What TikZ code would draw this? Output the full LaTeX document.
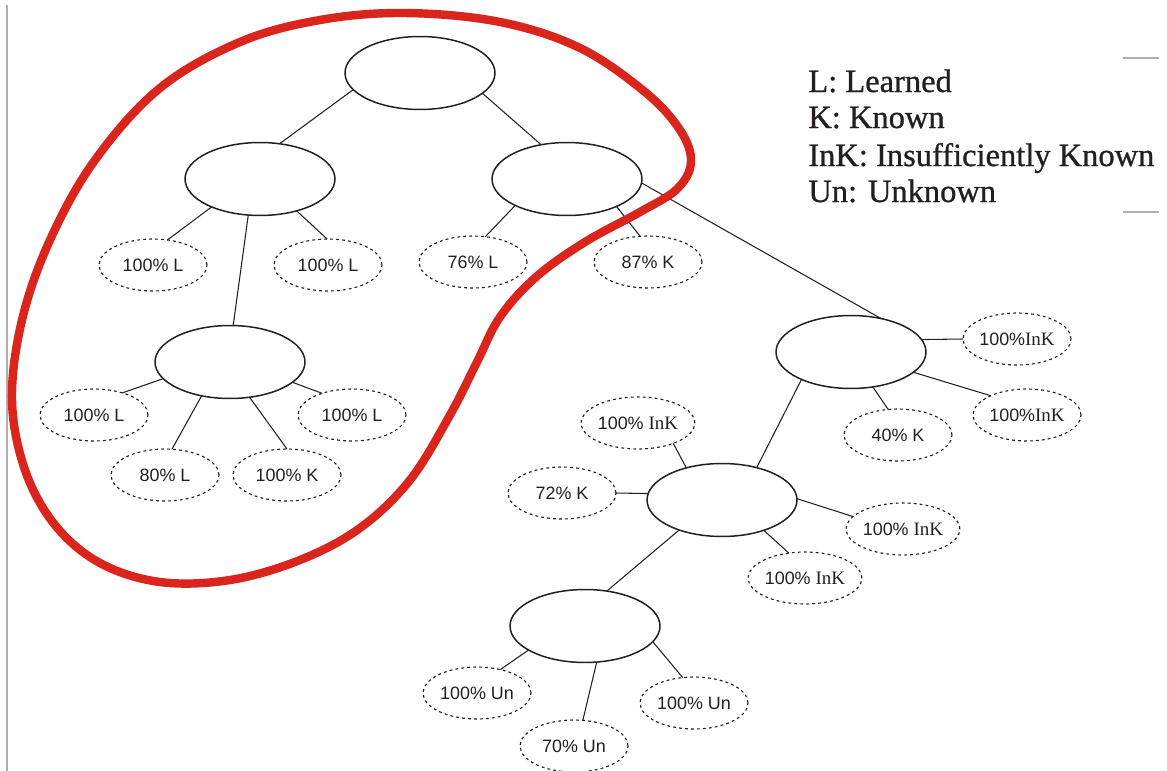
\documentclass[tikz,border=0pt]{standalone}
\usepackage{fontspec}
\setmainfont{Liberation Serif}
\setsansfont{Liberation Sans}
\newfontfamily\legendfont{Liberation Serif}[FakeBold=0.8]
\usetikzlibrary{shapes.geometric}
\definecolor{loopred}{RGB}{218,37,29}
\definecolor{ink}{RGB}{35,31,32}
\definecolor{rulegray}{RGB}{175,175,175}
% serif abbreviation used inside the sans-serif share labels
\newcommand{\InKtext}{{\rmfamily\fontsize{10.8}{12}\selectfont InK}}
\begin{document}
\begin{tikzpicture}[x=0.02cm, y=-0.02cm,
  concept/.style={ellipse, draw=ink, line width=0.85pt, minimum width=3cm,
    minimum height=1.46cm, inner sep=0pt, outer sep=0pt},
  share/.style={ellipse, draw=ink, line width=0.65pt, dash pattern=on 1.6pt off 1.8pt,
    minimum width=2.16cm, minimum height=1.04cm, inner sep=0pt, outer sep=0pt,
    font=\sffamily\fontsize{10.2}{12}\selectfont, text=ink},
  link/.style={draw=ink, line width=0.6pt},
  legend/.style={anchor=base west, font=\legendfont\fontsize{18.5}{22}\selectfont, text=ink, inner sep=0pt},
  framerule/.style={draw=rulegray, line width=0.6pt}]
\useasboundingbox (0,0) rectangle (1167,771);

% page rules
\coordinate (r1) at (7,5);   \coordinate (r2) at (7,771);
\coordinate (r3) at (1123,58);  \coordinate (r4) at (1159,58);
\coordinate (r5) at (1123,212); \coordinate (r6) at (1159,212);
\draw[framerule] (r1) -- (r2);
\draw[framerule] (r3) -- (r4);
\draw[framerule] (r5) -- (r6);

% concept nodes
\node[concept] (root) at (420,73) {};
\node[concept] (A) at (260,179) {};
\node[concept] (B) at (567,179) {};
\node[concept] (C) at (230,362) {};
\node[concept] (D) at (851,352) {};
\node[concept] (E) at (722,500) {};
\node[concept] (F) at (585,626) {};

% share nodes
\node[share] (a1) at (153,265) {100\% L};
\node[share] (a2) at (328,265) {100\% L};
\node[share] (b1) at (473,262) {76\% L};
\node[share] (b2) at (648,262) {87\% K};
\node[share] (c1) at (94,415) {100\% L};
\node[share] (c2) at (165,475) {80\% L};
\node[share] (c3) at (287,475) {100\% K};
\node[share] (c4) at (352,415) {100\% L};
\node[share] (d1) at (1017,339) {100\%\InKtext};
\node[share] (d2) at (1027,415) {100\%\InKtext};
\node[share] (d3) at (898,435) {40\% K};
\node[share] (e1) at (638,423) {100\% \InKtext};
\node[share] (e2) at (562,493) {72\% K};
\node[share] (e3) at (903,529) {100\% \InKtext};
\node[share] (e4) at (805,578) {100\% \InKtext};
\node[share] (f1) at (477,693) {100\% Un};
\node[share] (f2) at (574,746) {70\% Un};
\node[share] (f3) at (694,703) {100\% Un};

% tree links
\draw[link] (root.194) -- (A.61);
\draw[link] (root.342) -- (B.127);
\draw[link] (A.210) -- (a1.60);
\draw[link] (A.319) -- (a2.92);
\draw[link] (A.252) -- (C.85);
\draw[link] (B.207) -- (b1.64);
\draw[link] (B.331) -- (b2.107);
\draw[link] (B.357) -- (D.48);
\draw[link] (C.194) -- (c1.38);
\draw[link] (C.230) -- (c2.75);
\draw[link] (C.299) -- (c3.90);
\draw[link] (C.342) -- (c4.144);
\draw[link] (D.10) -- (d1.180);
\draw[link] (D.342) -- (d2.152);
\draw[link] (D.302) -- (d3.111);
\draw[link] (D.209) -- (E.43);
\draw[link] (E.138) -- (e1.330);
\draw[link] (E.175) -- (e2.0);
\draw[link] (E.1) -- (e3.166);
\draw[link] (E.324) -- (e4.123);
\draw[link] (E.215) -- (F.58);
\draw[link] (F.203) -- (f1.45);
\draw[link] (F.288) -- (f2.71);
\draw[link] (F.347) -- (f3.114);

% legend
\node[legend] (l1) at (808,92) {L: Learned};
\node[legend] (l2) at (808,128) {K: Known};
\node[legend] (l3) at (808,166) {InK: Insufficiently Known};
\node[legend] (l4) at (808,202) {Un: Unknown};

% highlighted region
\draw[loopred, line width=4.8pt] plot[smooth cycle, tension=0.6] coordinates {
  (405,13) (500,22) (580,48) (645,92) (680,130) (691,162) (677,189) (640,212)
  (585,242) (536,277) (500,317) (477,362) (450,415) (410,480) (360,528) (300,560)
  (230,580) (160,582) (100,563) (55,525) (25,470) (12,400) (22,320) (50,240)
  (95,160) (160,88) (240,42) (320,20)};
\end{tikzpicture}
\end{document}
